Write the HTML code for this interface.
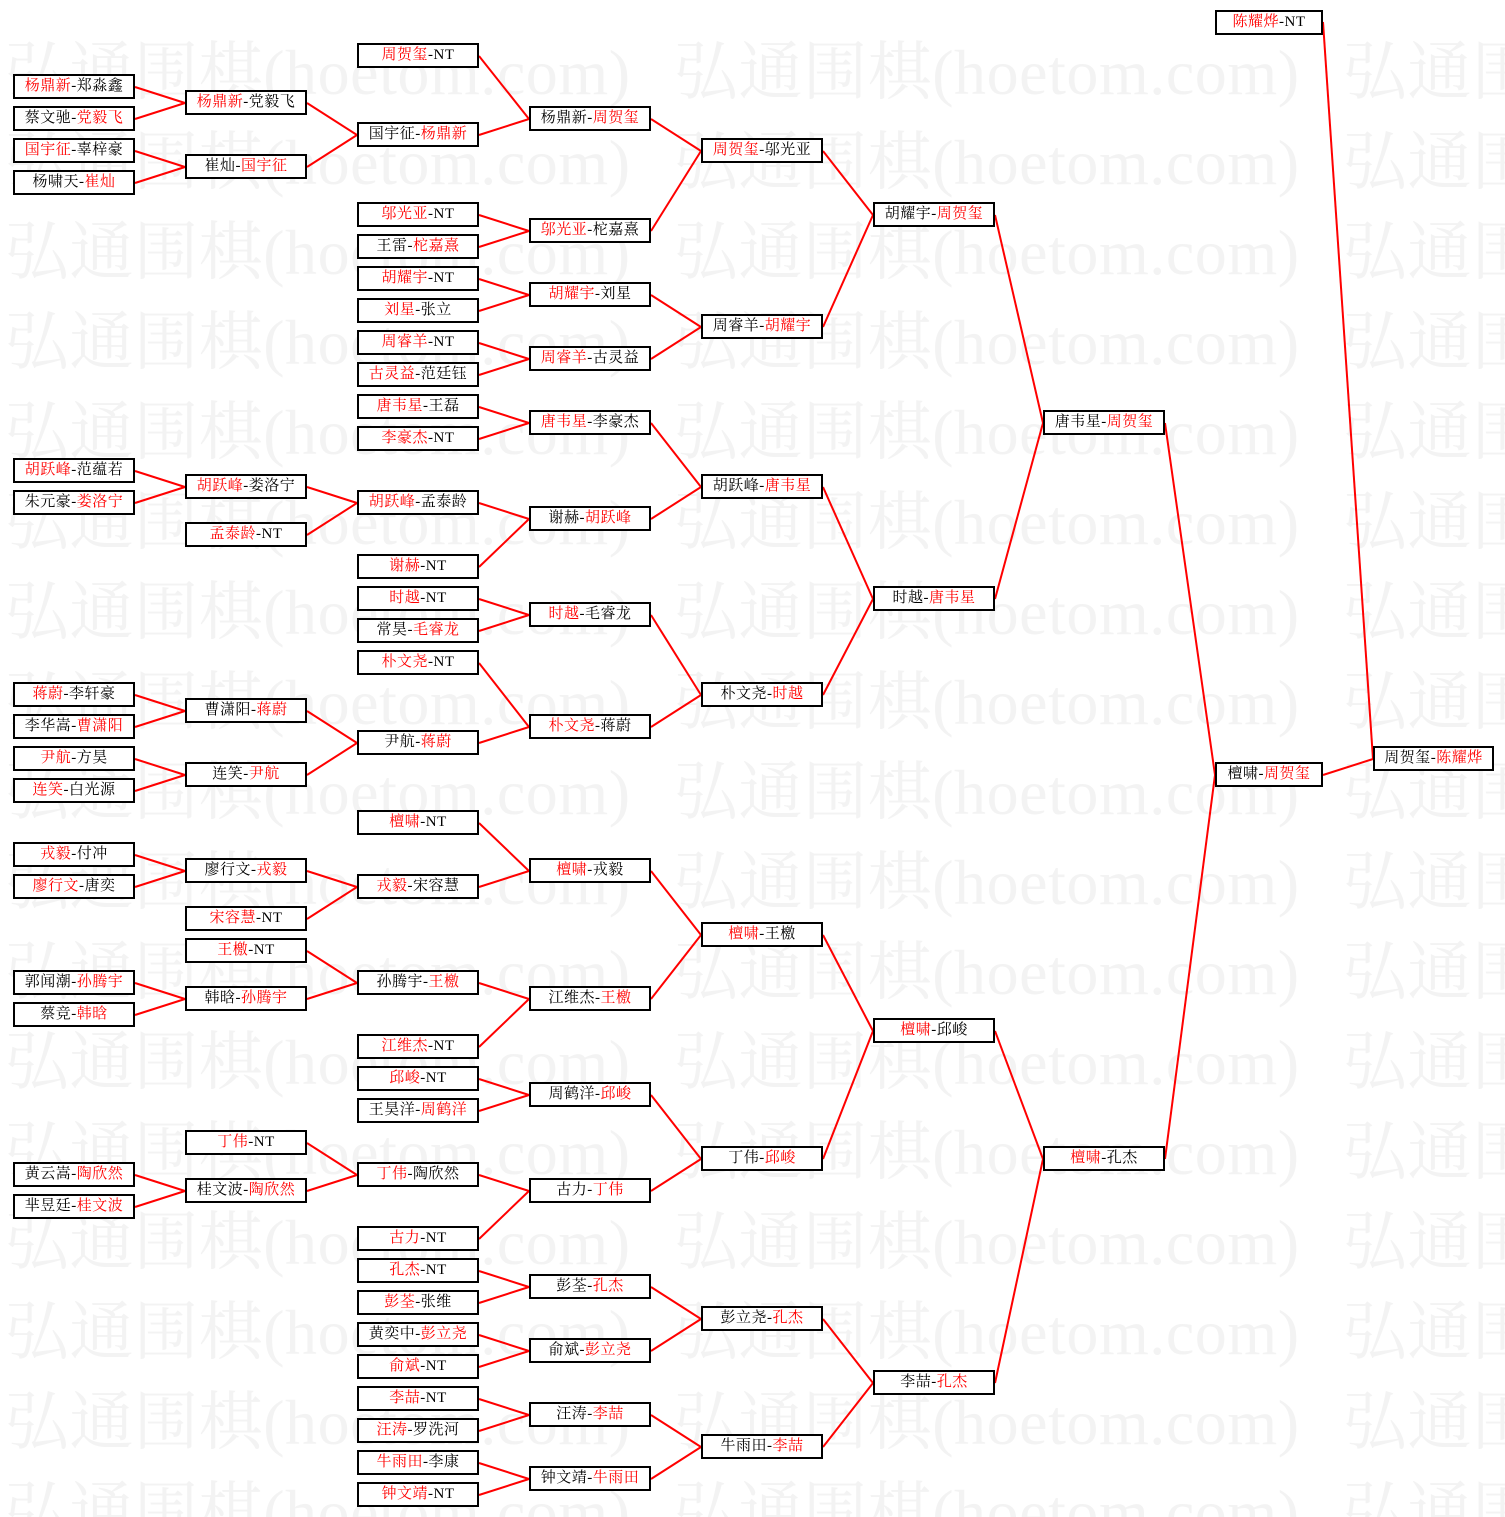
<!DOCTYPE html>
<html><head><meta charset="utf-8"><style>
body{margin:0;background:#fff;width:1505px;height:1517px;position:relative;overflow:hidden;font-family:"Liberation Serif","Noto Serif CJK SC","Noto Sans CJK SC",serif;}
svg{position:absolute;left:0;top:0}
.b{position:absolute;box-sizing:border-box;height:25px;width:122px;border:2px solid #000;background:#fff;font-size:15px;line-height:21px;text-align:center;color:#000;white-space:nowrap;letter-spacing:0.5px}
.b i{font-style:normal;color:#f00}
.c0{left:13px}.c1{left:185px}.c2{left:357px}.c3{left:529px}.c4{left:701px}.c5{left:873px}.c6{left:1043px}.c7{left:1215px;width:108px}.c8{left:1373px;width:121px}
</style></head><body>
<svg width="1505" height="1517" font-family="'Liberation Serif','Noto Serif CJK SC',serif" font-size="64" fill="#f3f3f3">
<g id="wm">
<text x="5" y="94" textLength="625">弘通围棋(hoetom.com)</text><text x="674" y="94" textLength="625">弘通围棋(hoetom.com)</text><text x="1343" y="94" textLength="625">弘通围棋(hoetom.com)</text>
<text x="5" y="184" textLength="625">弘通围棋(hoetom.com)</text><text x="674" y="184" textLength="625">弘通围棋(hoetom.com)</text><text x="1343" y="184" textLength="625">弘通围棋(hoetom.com)</text>
<text x="5" y="274" textLength="625">弘通围棋(hoetom.com)</text><text x="674" y="274" textLength="625">弘通围棋(hoetom.com)</text><text x="1343" y="274" textLength="625">弘通围棋(hoetom.com)</text>
<text x="5" y="364" textLength="625">弘通围棋(hoetom.com)</text><text x="674" y="364" textLength="625">弘通围棋(hoetom.com)</text><text x="1343" y="364" textLength="625">弘通围棋(hoetom.com)</text>
<text x="5" y="454" textLength="625">弘通围棋(hoetom.com)</text><text x="674" y="454" textLength="625">弘通围棋(hoetom.com)</text><text x="1343" y="454" textLength="625">弘通围棋(hoetom.com)</text>
<text x="5" y="544" textLength="625">弘通围棋(hoetom.com)</text><text x="674" y="544" textLength="625">弘通围棋(hoetom.com)</text><text x="1343" y="544" textLength="625">弘通围棋(hoetom.com)</text>
<text x="5" y="634" textLength="625">弘通围棋(hoetom.com)</text><text x="674" y="634" textLength="625">弘通围棋(hoetom.com)</text><text x="1343" y="634" textLength="625">弘通围棋(hoetom.com)</text>
<text x="5" y="724" textLength="625">弘通围棋(hoetom.com)</text><text x="674" y="724" textLength="625">弘通围棋(hoetom.com)</text><text x="1343" y="724" textLength="625">弘通围棋(hoetom.com)</text>
<text x="5" y="814" textLength="625">弘通围棋(hoetom.com)</text><text x="674" y="814" textLength="625">弘通围棋(hoetom.com)</text><text x="1343" y="814" textLength="625">弘通围棋(hoetom.com)</text>
<text x="5" y="904" textLength="625">弘通围棋(hoetom.com)</text><text x="674" y="904" textLength="625">弘通围棋(hoetom.com)</text><text x="1343" y="904" textLength="625">弘通围棋(hoetom.com)</text>
<text x="5" y="994" textLength="625">弘通围棋(hoetom.com)</text><text x="674" y="994" textLength="625">弘通围棋(hoetom.com)</text><text x="1343" y="994" textLength="625">弘通围棋(hoetom.com)</text>
<text x="5" y="1084" textLength="625">弘通围棋(hoetom.com)</text><text x="674" y="1084" textLength="625">弘通围棋(hoetom.com)</text><text x="1343" y="1084" textLength="625">弘通围棋(hoetom.com)</text>
<text x="5" y="1174" textLength="625">弘通围棋(hoetom.com)</text><text x="674" y="1174" textLength="625">弘通围棋(hoetom.com)</text><text x="1343" y="1174" textLength="625">弘通围棋(hoetom.com)</text>
<text x="5" y="1264" textLength="625">弘通围棋(hoetom.com)</text><text x="674" y="1264" textLength="625">弘通围棋(hoetom.com)</text><text x="1343" y="1264" textLength="625">弘通围棋(hoetom.com)</text>
<text x="5" y="1354" textLength="625">弘通围棋(hoetom.com)</text><text x="674" y="1354" textLength="625">弘通围棋(hoetom.com)</text><text x="1343" y="1354" textLength="625">弘通围棋(hoetom.com)</text>
<text x="5" y="1444" textLength="625">弘通围棋(hoetom.com)</text><text x="674" y="1444" textLength="625">弘通围棋(hoetom.com)</text><text x="1343" y="1444" textLength="625">弘通围棋(hoetom.com)</text>
<text x="5" y="1534" textLength="625">弘通围棋(hoetom.com)</text><text x="674" y="1534" textLength="625">弘通围棋(hoetom.com)</text><text x="1343" y="1534" textLength="625">弘通围棋(hoetom.com)</text>
</g>
<g stroke="#f00" stroke-width="2" fill="none">
<line x1="135" y1="87" x2="185" y2="103"/><line x1="135" y1="119" x2="185" y2="103"/>
<line x1="135" y1="151" x2="185" y2="167"/><line x1="135" y1="183" x2="185" y2="167"/>
<line x1="307" y1="103" x2="357" y2="135"/><line x1="307" y1="167" x2="357" y2="135"/>
<line x1="479" y1="56" x2="529" y2="119"/><line x1="479" y1="135" x2="529" y2="119"/>
<line x1="479" y1="215" x2="529" y2="231"/><line x1="479" y1="247" x2="529" y2="231"/>
<line x1="479" y1="279" x2="529" y2="295"/><line x1="479" y1="311" x2="529" y2="295"/>
<line x1="479" y1="343" x2="529" y2="359"/><line x1="479" y1="375" x2="529" y2="359"/>
<line x1="479" y1="407" x2="529" y2="423"/><line x1="479" y1="439" x2="529" y2="423"/>
<line x1="651" y1="119" x2="701" y2="151"/><line x1="651" y1="231" x2="701" y2="151"/>
<line x1="651" y1="295" x2="701" y2="327"/><line x1="651" y1="359" x2="701" y2="327"/>
<line x1="823" y1="151" x2="873" y2="215"/><line x1="823" y1="327" x2="873" y2="215"/>
<line x1="135" y1="471" x2="185" y2="487"/><line x1="135" y1="503" x2="185" y2="487"/>
<line x1="307" y1="487" x2="357" y2="503"/><line x1="307" y1="535" x2="357" y2="503"/>
<line x1="479" y1="503" x2="529" y2="519"/><line x1="479" y1="567" x2="529" y2="519"/>
<line x1="651" y1="423" x2="701" y2="487"/><line x1="651" y1="519" x2="701" y2="487"/>
<line x1="479" y1="599" x2="529" y2="615"/><line x1="479" y1="631" x2="529" y2="615"/>
<line x1="135" y1="695" x2="185" y2="711"/><line x1="135" y1="727" x2="185" y2="711"/>
<line x1="135" y1="759" x2="185" y2="775"/><line x1="135" y1="791" x2="185" y2="775"/>
<line x1="307" y1="711" x2="357" y2="743"/><line x1="307" y1="775" x2="357" y2="743"/>
<line x1="479" y1="663" x2="529" y2="727"/><line x1="479" y1="743" x2="529" y2="727"/>
<line x1="651" y1="615" x2="701" y2="695"/><line x1="651" y1="727" x2="701" y2="695"/>
<line x1="823" y1="487" x2="873" y2="599"/><line x1="823" y1="695" x2="873" y2="599"/>
<line x1="995" y1="215" x2="1043" y2="423"/><line x1="995" y1="599" x2="1043" y2="423"/>
<line x1="135" y1="855" x2="185" y2="871"/><line x1="135" y1="887" x2="185" y2="871"/>
<line x1="307" y1="871" x2="357" y2="887"/><line x1="307" y1="919" x2="357" y2="887"/>
<line x1="479" y1="823" x2="529" y2="871"/><line x1="479" y1="887" x2="529" y2="871"/>
<line x1="135" y1="983" x2="185" y2="999"/><line x1="135" y1="1015" x2="185" y2="999"/>
<line x1="307" y1="951" x2="357" y2="983"/><line x1="307" y1="999" x2="357" y2="983"/>
<line x1="479" y1="983" x2="529" y2="999"/><line x1="479" y1="1047" x2="529" y2="999"/>
<line x1="651" y1="871" x2="701" y2="935"/><line x1="651" y1="999" x2="701" y2="935"/>
<line x1="479" y1="1079" x2="529" y2="1095"/><line x1="479" y1="1111" x2="529" y2="1095"/>
<line x1="135" y1="1175" x2="185" y2="1191"/><line x1="135" y1="1207" x2="185" y2="1191"/>
<line x1="307" y1="1143" x2="357" y2="1175"/><line x1="307" y1="1191" x2="357" y2="1175"/>
<line x1="479" y1="1175" x2="529" y2="1191"/><line x1="479" y1="1239" x2="529" y2="1191"/>
<line x1="651" y1="1095" x2="701" y2="1159"/><line x1="651" y1="1191" x2="701" y2="1159"/>
<line x1="823" y1="935" x2="873" y2="1031"/><line x1="823" y1="1159" x2="873" y2="1031"/>
<line x1="479" y1="1271" x2="529" y2="1287"/><line x1="479" y1="1303" x2="529" y2="1287"/>
<line x1="479" y1="1335" x2="529" y2="1351"/><line x1="479" y1="1367" x2="529" y2="1351"/>
<line x1="651" y1="1287" x2="701" y2="1319"/><line x1="651" y1="1351" x2="701" y2="1319"/>
<line x1="479" y1="1399" x2="529" y2="1415"/><line x1="479" y1="1431" x2="529" y2="1415"/>
<line x1="479" y1="1463" x2="529" y2="1479"/><line x1="479" y1="1495" x2="529" y2="1479"/>
<line x1="651" y1="1415" x2="701" y2="1447"/><line x1="651" y1="1479" x2="701" y2="1447"/>
<line x1="823" y1="1319" x2="873" y2="1383"/><line x1="823" y1="1447" x2="873" y2="1383"/>
<line x1="995" y1="1031" x2="1043" y2="1159"/><line x1="995" y1="1383" x2="1043" y2="1159"/>
<line x1="1165" y1="423" x2="1215" y2="775"/><line x1="1165" y1="1159" x2="1215" y2="775"/>
<line x1="1323" y1="22" x2="1373" y2="759"/><line x1="1323" y1="775" x2="1373" y2="759"/>
</g>
</svg>

<div class="b c0" style="top:74px"><i>杨鼎新</i>-郑淼鑫</div>
<div class="b c0" style="top:106px">蔡文驰-<i>党毅飞</i></div>
<div class="b c0" style="top:138px"><i>国宇征</i>-辜梓豪</div>
<div class="b c0" style="top:170px">杨啸天-<i>崔灿</i></div>
<div class="b c0" style="top:458px"><i>胡跃峰</i>-范蕴若</div>
<div class="b c0" style="top:490px">朱元豪-<i>娄洛宁</i></div>
<div class="b c0" style="top:682px"><i>蒋蔚</i>-李轩豪</div>
<div class="b c0" style="top:714px">李华嵩-<i>曹潇阳</i></div>
<div class="b c0" style="top:746px"><i>尹航</i>-方昊</div>
<div class="b c0" style="top:778px"><i>连笑</i>-白光源</div>
<div class="b c0" style="top:842px"><i>戎毅</i>-付冲</div>
<div class="b c0" style="top:874px"><i>廖行文</i>-唐奕</div>
<div class="b c0" style="top:970px">郭闻潮-<i>孙腾宇</i></div>
<div class="b c0" style="top:1002px">蔡竞-<i>韩晗</i></div>
<div class="b c0" style="top:1162px">黄云嵩-<i>陶欣然</i></div>
<div class="b c0" style="top:1194px">芈昱廷-<i>桂文波</i></div>

<div class="b c1" style="top:90px"><i>杨鼎新</i>-党毅飞</div>
<div class="b c1" style="top:154px">崔灿-<i>国宇征</i></div>
<div class="b c1" style="top:474px"><i>胡跃峰</i>-娄洛宁</div>
<div class="b c1" style="top:522px"><i>孟泰龄</i>-NT</div>
<div class="b c1" style="top:698px">曹潇阳-<i>蒋蔚</i></div>
<div class="b c1" style="top:762px">连笑-<i>尹航</i></div>
<div class="b c1" style="top:858px">廖行文-<i>戎毅</i></div>
<div class="b c1" style="top:906px"><i>宋容慧</i>-NT</div>
<div class="b c1" style="top:938px"><i>王檄</i>-NT</div>
<div class="b c1" style="top:986px">韩晗-<i>孙腾宇</i></div>
<div class="b c1" style="top:1130px"><i>丁伟</i>-NT</div>
<div class="b c1" style="top:1178px">桂文波-<i>陶欣然</i></div>

<div class="b c2" style="top:43px"><i>周贺玺</i>-NT</div>
<div class="b c2" style="top:122px">国宇征-<i>杨鼎新</i></div>
<div class="b c2" style="top:202px"><i>邬光亚</i>-NT</div>
<div class="b c2" style="top:234px">王雷-<i>柁嘉熹</i></div>
<div class="b c2" style="top:266px"><i>胡耀宇</i>-NT</div>
<div class="b c2" style="top:298px"><i>刘星</i>-张立</div>
<div class="b c2" style="top:330px"><i>周睿羊</i>-NT</div>
<div class="b c2" style="top:362px"><i>古灵益</i>-范廷钰</div>
<div class="b c2" style="top:394px"><i>唐韦星</i>-王磊</div>
<div class="b c2" style="top:426px"><i>李豪杰</i>-NT</div>
<div class="b c2" style="top:490px"><i>胡跃峰</i>-孟泰龄</div>
<div class="b c2" style="top:554px"><i>谢赫</i>-NT</div>
<div class="b c2" style="top:586px"><i>时越</i>-NT</div>
<div class="b c2" style="top:618px">常昊-<i>毛睿龙</i></div>
<div class="b c2" style="top:650px"><i>朴文尧</i>-NT</div>
<div class="b c2" style="top:730px">尹航-<i>蒋蔚</i></div>
<div class="b c2" style="top:810px"><i>檀啸</i>-NT</div>
<div class="b c2" style="top:874px"><i>戎毅</i>-宋容慧</div>
<div class="b c2" style="top:970px">孙腾宇-<i>王檄</i></div>
<div class="b c2" style="top:1034px"><i>江维杰</i>-NT</div>
<div class="b c2" style="top:1066px"><i>邱峻</i>-NT</div>
<div class="b c2" style="top:1098px">王昊洋-<i>周鹤洋</i></div>
<div class="b c2" style="top:1162px"><i>丁伟</i>-陶欣然</div>
<div class="b c2" style="top:1226px"><i>古力</i>-NT</div>
<div class="b c2" style="top:1258px"><i>孔杰</i>-NT</div>
<div class="b c2" style="top:1290px"><i>彭荃</i>-张维</div>
<div class="b c2" style="top:1322px">黄奕中-<i>彭立尧</i></div>
<div class="b c2" style="top:1354px"><i>俞斌</i>-NT</div>
<div class="b c2" style="top:1386px"><i>李喆</i>-NT</div>
<div class="b c2" style="top:1418px"><i>汪涛</i>-罗洗河</div>
<div class="b c2" style="top:1450px"><i>牛雨田</i>-李康</div>
<div class="b c2" style="top:1482px"><i>钟文靖</i>-NT</div>

<div class="b c3" style="top:106px">杨鼎新-<i>周贺玺</i></div>
<div class="b c3" style="top:218px"><i>邬光亚</i>-柁嘉熹</div>
<div class="b c3" style="top:282px"><i>胡耀宇</i>-刘星</div>
<div class="b c3" style="top:346px"><i>周睿羊</i>-古灵益</div>
<div class="b c3" style="top:410px"><i>唐韦星</i>-李豪杰</div>
<div class="b c3" style="top:506px">谢赫-<i>胡跃峰</i></div>
<div class="b c3" style="top:602px"><i>时越</i>-毛睿龙</div>
<div class="b c3" style="top:714px"><i>朴文尧</i>-蒋蔚</div>
<div class="b c3" style="top:858px"><i>檀啸</i>-戎毅</div>
<div class="b c3" style="top:986px">江维杰-<i>王檄</i></div>
<div class="b c3" style="top:1082px">周鹤洋-<i>邱峻</i></div>
<div class="b c3" style="top:1178px">古力-<i>丁伟</i></div>
<div class="b c3" style="top:1274px">彭荃-<i>孔杰</i></div>
<div class="b c3" style="top:1338px">俞斌-<i>彭立尧</i></div>
<div class="b c3" style="top:1402px">汪涛-<i>李喆</i></div>
<div class="b c3" style="top:1466px">钟文靖-<i>牛雨田</i></div>

<div class="b c4" style="top:138px"><i>周贺玺</i>-邬光亚</div>
<div class="b c4" style="top:314px">周睿羊-<i>胡耀宇</i></div>
<div class="b c4" style="top:474px">胡跃峰-<i>唐韦星</i></div>
<div class="b c4" style="top:682px">朴文尧-<i>时越</i></div>
<div class="b c4" style="top:922px"><i>檀啸</i>-王檄</div>
<div class="b c4" style="top:1146px">丁伟-<i>邱峻</i></div>
<div class="b c4" style="top:1306px">彭立尧-<i>孔杰</i></div>
<div class="b c4" style="top:1434px">牛雨田-<i>李喆</i></div>

<div class="b c5" style="top:202px">胡耀宇-<i>周贺玺</i></div>
<div class="b c5" style="top:586px">时越-<i>唐韦星</i></div>
<div class="b c5" style="top:1018px"><i>檀啸</i>-邱峻</div>
<div class="b c5" style="top:1370px">李喆-<i>孔杰</i></div>

<div class="b c6" style="top:410px">唐韦星-<i>周贺玺</i></div>
<div class="b c6" style="top:1146px"><i>檀啸</i>-孔杰</div>

<div class="b c7" style="top:10px"><i>陈耀烨</i>-NT</div>
<div class="b c7" style="top:762px">檀啸-<i>周贺玺</i></div>

<div class="b c8" style="top:746px">周贺玺-<i>陈耀烨</i></div>
</body></html>
